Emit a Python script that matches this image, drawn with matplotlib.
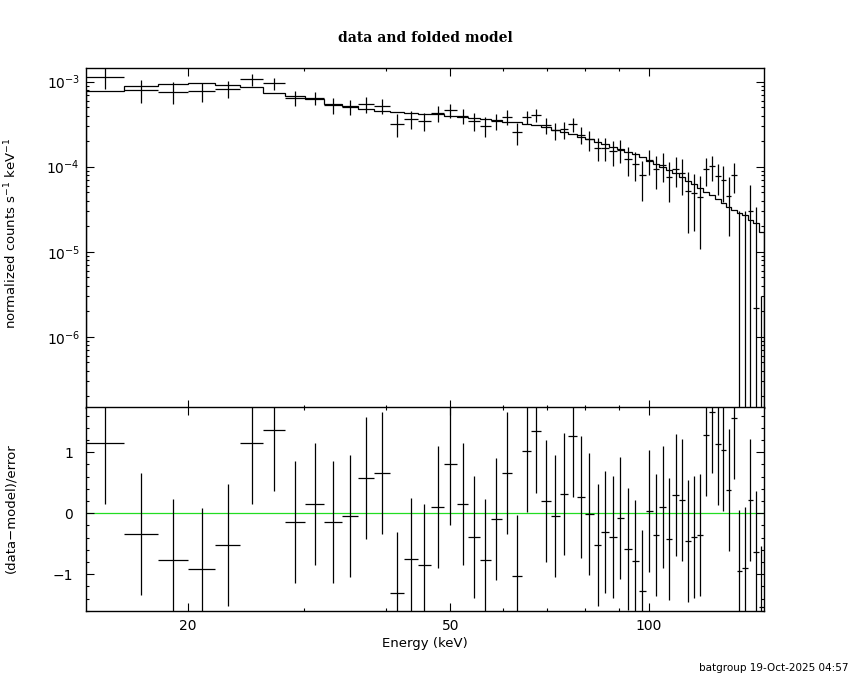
import matplotlib
matplotlib.use('Agg')
import matplotlib.pyplot as plt
import numpy as np
from matplotlib.ticker import FixedLocator, NullFormatter, LogLocator, MultipleLocator, FuncFormatter

plt.rcParams['font.family'] = ['DejaVu Sans']

# Energy bin edges (keV)
edges = [14.0, 16.0, 18.0, 20.0, 22.0, 24.0, 26.0, 28.05, 30.1, 32.15,
         34.2, 36.25, 38.35, 40.45, 42.5, 44.6, 46.75, 48.9, 51.1, 53.25,
         55.4, 57.6, 59.8, 62.05, 64.2, 66.3, 68.65, 70.95, 73.2, 75.45,
         77.7, 80.05, 82.4, 84.7, 87.0, 89.3, 91.65, 94.1, 96.45, 98.8,
         101.2, 103.65, 106.05, 108.4, 110.9, 113.4, 115.8, 118.3, 120.75, 123.2,
         125.85, 128.4, 130.8, 133.2, 135.75, 138.4, 141.05, 143.75, 146.5, 149.3]

# folded model (units of 1e-3 counts s^-1 keV^-1)
model_e3 = [0.771, 0.883, 0.932, 0.958, 0.922, 0.859, 0.742, 0.670, 0.626, 0.546,
            0.514, 0.477, 0.452, 0.444, 0.432, 0.417, 0.414, 0.395, 0.388, 0.377,
            0.364, 0.354, 0.338, 0.333, 0.318, 0.309, 0.293, 0.270, 0.254, 0.2405,
            0.2254, 0.210, 0.1936, 0.1834, 0.172, 0.1615, 0.150, 0.140, 0.129, 0.1177,
            0.1076, 0.1005, 0.0915, 0.0836, 0.0763, 0.0679, 0.0621, 0.0557, 0.0508, 0.0465,
            0.0417, 0.0377, 0.0338, 0.031, 0.0285, 0.0270, 0.0236, 0.0218, 0.0172]

# data (units of 1e-3 counts s^-1 keV^-1)
rate_e3 = [1.139, 0.800, 0.763, 0.774, 0.826, 1.066, 0.953, 0.650, 0.644, 0.529,
           0.509, 0.544, 0.518, 0.318, 0.366, 0.345, 0.423, 0.461, 0.400, 0.346,
           0.304, 0.347, 0.388, 0.256, 0.387, 0.407, 0.306, 0.267, 0.274, 0.317,
           0.239, 0.209, 0.168, 0.168, 0.1525, 0.158, 0.123, 0.108, 0.079, 0.119,
           0.0936, 0.1044, 0.0756, 0.0947, 0.0847, 0.0518, 0.0496, 0.0438, 0.093, 0.1013,
           0.077, 0.0696, 0.0452, 0.0794, 0.0, 0.0, 0.0300, 0.0022, -0.0230]

# 1-sigma errors (units of 1e-3)
err_e3 = [0.32, 0.245, 0.22, 0.20, 0.185, 0.18, 0.155, 0.13, 0.117, 0.115,
          0.105, 0.117, 0.10, 0.096, 0.088, 0.085, 0.088, 0.083, 0.08, 0.08,
          0.078, 0.075, 0.075, 0.075, 0.068, 0.073, 0.063, 0.06, 0.065, 0.06,
          0.053, 0.055, 0.05, 0.05, 0.05, 0.046, 0.046, 0.041, 0.039, 0.04,
          0.039, 0.039, 0.037, 0.037, 0.038, 0.035, 0.032, 0.033, 0.033, 0.033,
          0.031, 0.031, 0.030, 0.031, 0.030, 0.030, 0.031, 0.031, 0.026]

# residuals (data-model)/error
resid = [1.15, -0.34, -0.77, -0.92, -0.52, 1.15, 1.36, -0.15, 0.15, -0.15,
         -0.05, 0.57, 0.66, -1.31, -0.75, -0.85, 0.10, 0.80, 0.15, -0.39,
         -0.77, -0.10, 0.66, -1.03, 1.02, 1.34, 0.20, -0.05, 0.31, 1.27,
         0.26, -0.02, -0.52, -0.30, -0.39, -0.07, -0.58, -0.78, -1.28, 0.03,
         -0.36, 0.10, -0.43, 0.30, 0.22, -0.46, -0.39, -0.36, 1.28, 1.66,
         1.14, 1.03, 0.38, 1.56, -0.95, -0.90, 0.22, -0.63, -1.53]

xticks_major = [20, 50, 100]
xticks_minor = [30, 40, 60, 70, 80, 90]

edges_a = np.array(edges)
model = np.array(model_e3) * 1e-3
rate = np.array(rate_e3) * 1e-3
err = np.array(err_e3) * 1e-3
res = np.array(resid)
centers = 0.5 * (edges_a[1:] + edges_a[:-1])
hw = 0.5 * np.diff(edges_a)

fig = plt.figure(figsize=(8.5, 6.8), dpi=100)
ax1 = fig.add_axes([0.1006, 0.4007, 0.7982, 0.4989])
ax2 = fig.add_axes([0.1006, 0.1015, 0.7982, 0.2993])

lw = 0.9
# top panel
ax1.set_xscale('log')
ax1.set_yscale('log', nonpositive='clip')
ax1.stairs(model, edges_a, color='black', lw=lw)
lo = np.maximum(rate - err, 1e-12)
hi = rate + err
ax1.vlines(centers, lo, hi, color='black', lw=lw)
pos = rate > 0
ax1.hlines(rate[pos], (centers - hw)[pos], (centers + hw)[pos], color='black', lw=lw)
ax1.set_xlim(14.0, 149.3)
ax1.set_ylim(1.469e-7, 1.438e-3)

# bottom panel
ax2.set_xscale('log')
ax2.axhline(0, color='#22dd22', lw=0.9, zorder=1)
ax2.errorbar(centers, res, xerr=hw, yerr=1.0, fmt='none', ecolor='black',
             elinewidth=lw, capsize=0, zorder=2)
ax2.set_xlim(14.0, 149.3)
ax2.set_ylim(-1.602, 1.734)

for ax in (ax1, ax2):
    ax.xaxis.set_major_locator(FixedLocator(xticks_major))
    ax.xaxis.set_minor_locator(FixedLocator(xticks_minor))
    ax.xaxis.set_minor_formatter(NullFormatter())
    ax.tick_params(which='both', direction='in', top=True, right=True,
                   colors='black', width=0.8, labelsize=10)
    ax.tick_params(which='major', length=5.5)
    ax.tick_params(which='minor', length=2.5)
    for s in ax.spines.values():
        s.set_linewidth(1.0)
        s.set_color('black')

ax1.tick_params(labelbottom=False)
ax1.yaxis.set_major_locator(LogLocator(base=10, numticks=20))
ax1.yaxis.set_minor_locator(LogLocator(base=10, subs=np.arange(2, 10), numticks=20))
ax1.yaxis.set_minor_formatter(NullFormatter())
ax1.tick_params(axis='y', pad=4)

ax2.xaxis.set_major_formatter(FuncFormatter(lambda v, p: f'{v:g}'))
ax2.yaxis.set_major_locator(MultipleLocator(1))
ax2.yaxis.set_minor_locator(MultipleLocator(0.2))
ax2.tick_params(axis='y', pad=9)
ax2.tick_params(axis='x', pad=6)

fig.text(0.5, 0.944, 'data and folded model', ha='center', va='center',
         fontsize=10, family='DejaVu Serif', fontweight='bold')
fig.text(0.013, 0.657, 'normalized counts s$^{-1}$ keV$^{-1}$', rotation=90,
         ha='center', va='center', fontsize=9.5)
fig.text(0.013, 0.253, '(data\u2212model)/error', rotation=90,
         ha='center', va='center', fontsize=9.5)
fig.text(0.4997, 0.054, 'Energy (keV)', ha='center', va='center', fontsize=9.5)
fig.text(0.998, 0.0176, 'batgroup 19-Oct-2025 04:57', ha='right', va='center',
         fontsize=7.5)

fig.savefig('out.png', dpi=100)
